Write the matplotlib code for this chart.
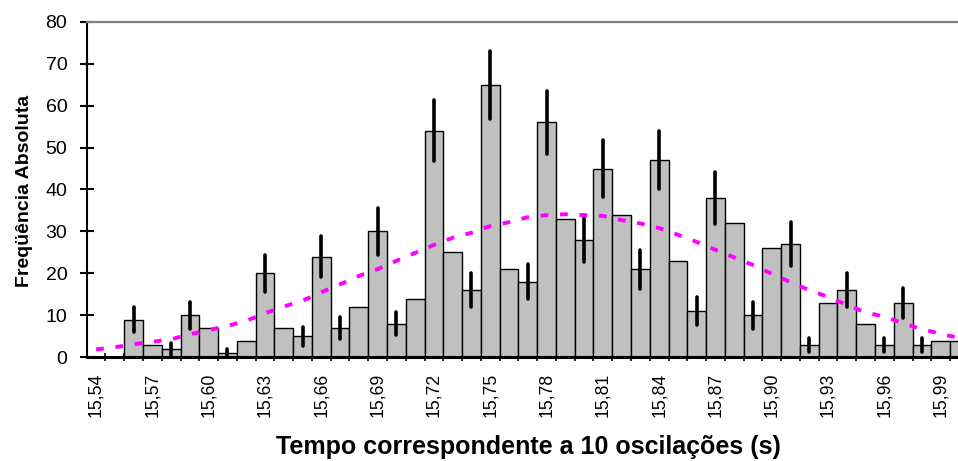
import numpy as np
import matplotlib
matplotlib.use('Agg')
import matplotlib.pyplot as plt

plt.rcParams['font.family'] = ['Liberation Sans', 'DejaVu Sans']

# classes de tempo (s) e frequencias absolutas
tempos = ['15,54', '15,55', '15,56', '15,57', '15,58', '15,59', '15,60', '15,61',
          '15,62', '15,63', '15,64', '15,65', '15,66', '15,67', '15,68', '15,69',
          '15,70', '15,71', '15,72', '15,73', '15,74', '15,75', '15,76', '15,77',
          '15,78', '15,79', '15,80', '15,81', '15,82', '15,83', '15,84', '15,85',
          '15,86', '15,87', '15,88', '15,89', '15,90', '15,91', '15,92', '15,93',
          '15,94', '15,95', '15,96', '15,97', '15,98', '15,99', '16,00']
freq = [0, 0, 9, 3, 2, 10, 7, 1, 4, 20, 7, 5, 24, 7, 12, 30, 8, 14, 54, 25, 16, 65,
        21, 18, 56, 33, 28, 45, 34, 21, 47, 23, 11, 38, 32, 10, 26, 27, 3, 13, 16, 8,
        3, 13, 3, 4, 4]

# curva normal ajustada
curva = [1.9, 2.4, 3.1, 3.7, 4.3, 5.5, 6.5, 7.5, 8.7, 10.5, 12.1, 13.5, 15.5, 17.4,
         19.4, 21.0, 23.0, 24.9, 26.8, 28.5, 29.7, 31.3, 32.2, 33.4, 33.9, 34.1, 33.9,
         33.7, 32.7, 31.9, 30.8, 29.2, 27.5, 25.6, 23.8, 22.0, 19.9, 17.9, 16.0, 14.4,
         12.5, 10.7, 9.7, 8.1, 6.7, 5.6, 4.6]

# barras de erro (classe, incerteza)
err_idx = [2, 4, 5, 7, 9, 11, 12, 13, 15, 16, 18, 20, 21, 23, 24, 26, 27, 29, 30,
           32, 33, 35, 37, 38, 40, 42, 43, 44]
err_val = [3.0, 1.4, 3.2, 1.0, 4.5, 2.2, 4.9, 2.6, 5.5, 2.8, 7.3, 4.0, 8.1, 4.2, 7.5,
           5.3, 6.7, 4.6, 6.9, 3.3, 6.2, 3.2, 5.2, 1.7, 4.0, 1.7, 3.6, 1.7]

x = np.arange(len(tempos))

fig = plt.figure(figsize=(9.58, 4.61), dpi=100)
ax = fig.add_axes([86.7/958, 103.7/461, 1 - 86.7/958, 335.6/461])

ax.bar(x, freq, width=1.0, color='#C0C0C0', edgecolor='black', linewidth=1.0, zorder=2)

ey = [freq[i] for i in err_idx]
lo = [ey[k] - err_val[k] for k in range(len(err_idx))]
hi = [ey[k] + err_val[k] for k in range(len(err_idx))]
vl = ax.vlines(err_idx, lo, hi, color='black', linewidth=2.6, zorder=3)
vl.set_capstyle('round')

ax.plot(x, curva, color='#FF00FF', linewidth=2.8, linestyle=(0, (2.0, 3.0)), zorder=4)

ax.set_xlim(-0.5, 45.92)
ax.set_ylim(0, 80)
ax.set_yticks(range(0, 81, 10))
ax.set_xticks(x[:46:3])
ax.set_xticklabels(tempos[:46:3], rotation=90, fontsize=12.7)
ax.set_xticks(np.arange(0.5, 46, 1), minor=True)
ax.tick_params(axis='x', which='major', length=0, pad=11)
ax.tick_params(axis='x', which='minor', direction='inout', length=6, width=1.2)
ax.tick_params(axis='y', direction='inout', length=10, width=1.5, pad=9, labelsize=14)

ax.spines['right'].set_visible(False)
ax.spines['top'].set_color('#808080')
ax.spines['top'].set_linewidth(1.6)
ax.spines['left'].set_linewidth(1.5)
ax.spines['bottom'].set_linewidth(2.2)

fig.text(25/958, 270/461, 'Freqüência Absoluta', rotation=90, ha='center', va='center',
         fontsize=14, fontweight='bold')
fig.text(528/958, 2/461, 'Tempo correspondente a 10 oscilações (s)', ha='center',
         va='bottom', fontsize=18, fontweight='bold')

fig.savefig('out.png', dpi=100)
